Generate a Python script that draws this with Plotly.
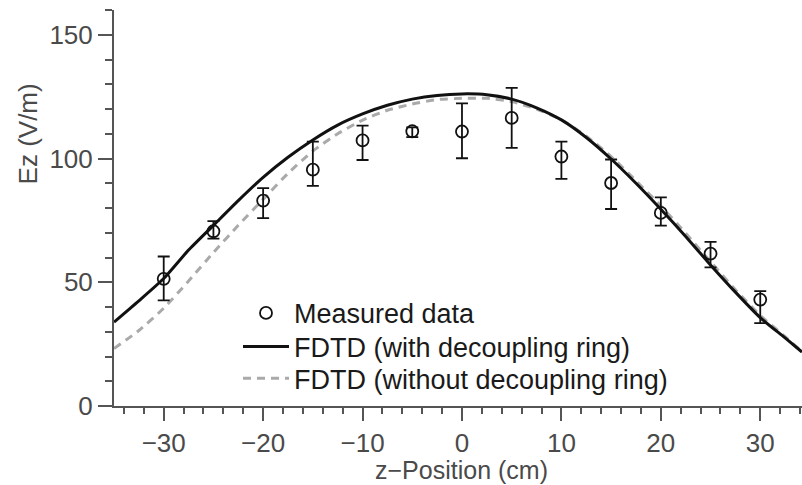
import plotly.graph_objects as go

# Measured data
z_meas = [-30, -25, -20, -15, -10, -5, 0, 5, 10, 15, 20, 25, 30]
ez_meas = [51.4, 70.6, 83.0, 95.5, 107.3, 111.0, 110.9, 116.4, 100.8, 90.1, 78.0, 61.6, 43.0]
err_plus = [9.0, 4.1, 5.0, 11.3, 6.0, 1.6, 11.4, 12.1, 6.0, 9.5, 6.3, 4.7, 3.4]
err_minus = [8.7, 3.0, 7.1, 6.6, 7.9, 2.4, 10.8, 12.1, 9.0, 10.5, 5.1, 5.6, 9.5]

# FDTD curves
z_sim = [-35, -32.5, -30, -27.5, -25, -22.5, -20, -17.5, -15, -12.5, -10, -7.5, -5, -2.5,
         0, 2.5, 5, 7.5, 10, 12.5, 15, 17.5, 20, 22.5, 25, 27.5, 30, 32.5, 34.2]
ez_with_ring = [33.9, 42.5, 51.5, 63.0, 73.0, 83.0, 92.4, 100.5, 107.5, 113.5, 118.0, 121.5, 124.0, 125.5,
                126.1, 125.8, 124.0, 120.5, 115.6, 108.5, 99.8, 90.0, 79.5, 68.5, 57.0, 46.0, 35.7, 27.5, 21.8]
ez_without_ring = [23.2, 30.5, 39.5, 50.5, 62.0, 73.0, 83.5, 94.0, 103.0, 110.0, 115.5, 119.5, 122.0, 123.8,
                   124.3, 124.3, 123.0, 120.0, 115.6, 109.0, 100.8, 91.0, 80.8, 69.8, 58.3, 47.0, 36.6, 28.0, 22.0]

x_ticks = [-30, -20, -10, 0, 10, 20, 30]
y_ticks = [0, 50, 100, 150]

FONT = "Liberation Sans, Arial, Helvetica, sans-serif"
AX = "#555555"
TXT = "#4a4a4a"

PLOT_L, PLOT_R, PLOT_T, PLOT_B = 114, 802, 9.5, 405.7


def px_x(p):
    return (p - PLOT_L) / (PLOT_R - PLOT_L)


def px_y(p):
    return (PLOT_B - p) / (PLOT_B - PLOT_T)


fig = go.Figure()
fig.add_trace(go.Scatter(
    x=z_sim, y=ez_without_ring, mode="lines", name="FDTD (without decoupling ring)",
    line=dict(color="#aaaaaa", width=3, dash="8px,6px", shape="spline", smoothing=0.6),
    legend="legend3"))
fig.add_trace(go.Scatter(
    x=z_sim, y=ez_with_ring, mode="lines", name="FDTD (with decoupling ring)",
    line=dict(color="#111111", width=3, shape="spline", smoothing=0.6),
    legend="legend2"))
fig.add_trace(go.Scatter(
    x=z_meas, y=ez_meas, mode="markers", name="Measured data",
    marker=dict(symbol="circle-open", size=12, color="#111111", line=dict(width=1.8, color="#111111")),
    error_y=dict(type="data", array=err_plus, arrayminus=err_minus, symmetric=False,
                 color="#111111", thickness=1.8, width=6),
    legend="legend"))

leg_common = dict(xanchor="left", yanchor="middle", bgcolor="rgba(0,0,0,0)", borderwidth=0,
                  font=dict(family=FONT, size=27, color="#1a1a1a"), itemwidth=46)
legx = px_x(238)

fig.update_layout(
    width=802, height=485,
    margin=dict(l=PLOT_L, r=802 - PLOT_R, t=PLOT_T, b=485 - PLOT_B),
    paper_bgcolor="white", plot_bgcolor="white",
    font=dict(family=FONT, size=26, color=TXT),
    showlegend=True,
    legend=dict(x=legx, y=px_y(313), **leg_common),
    legend2=dict(x=legx, y=px_y(346.7), **leg_common),
    legend3=dict(x=legx, y=px_y(378.3), **leg_common),
    xaxis=dict(range=[-35, 34.2], tickmode="array", tickvals=x_ticks,
               showgrid=False, zeroline=False, showline=True, linecolor=AX, linewidth=2,
               ticks="outside", ticklen=13, tickwidth=1.8, tickcolor=AX,
               tickfont=dict(family=FONT, size=26, color=TXT),
               minor=dict(dtick=2, ticks="outside", ticklen=6, tickwidth=1.5, tickcolor=AX, showgrid=False),
               fixedrange=True),
    yaxis=dict(range=[0, 160], tickmode="array", tickvals=y_ticks,
               showgrid=False, zeroline=False, showline=True, linecolor=AX, linewidth=2,
               ticks="outside", ticklen=14, tickwidth=1.8, tickcolor=AX,
               tickfont=dict(family=FONT, size=26, color=TXT),
               minor=dict(dtick=10, ticks="outside", ticklen=7, tickwidth=1.5, tickcolor=AX, showgrid=False),
               fixedrange=True),
    annotations=[
        dict(text="z\u2212Position (cm)", xref="paper", yref="paper", x=px_x(461.7), y=px_y(469.5),
             xanchor="center", yanchor="middle", showarrow=False,
             font=dict(family=FONT, size=25, color=TXT)),
        dict(text="Ez (V/m)", xref="paper", yref="paper", x=px_x(28), y=px_y(134),
             xanchor="center", yanchor="middle", showarrow=False, textangle=-90,
             font=dict(family=FONT, size=26, color=TXT)),
    ],
)

fig.write_html("out.html")
